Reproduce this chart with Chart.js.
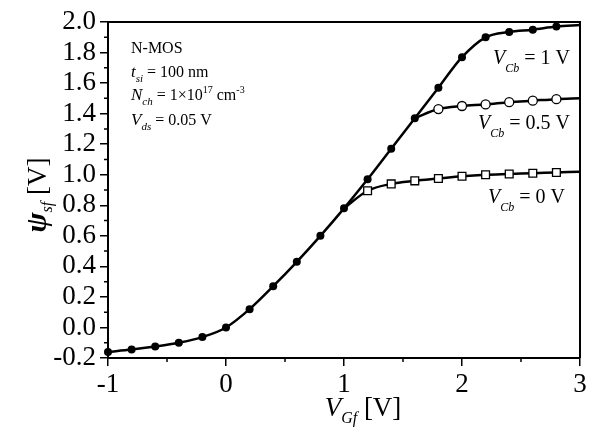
<!DOCTYPE html>
<html lang="en">
<head>
<meta charset="UTF-8">
<title>Surface potential vs front gate voltage</title>
<script src="https://cdn.jsdelivr.net/npm/chart.js"></script>
<style>
  html, body { margin: 0; padding: 0; background: #fff; }
</style>
</head>
<body>
<canvas id="psiChart" width="597" height="427"></canvas>

<script>
  // front gate voltage V_Gf [V]
  var vgf = [-1, -0.8, -0.6, -0.4, -0.2, 0, 0.2, 0.4, 0.6, 0.8, 1.0,
             1.2, 1.4, 1.6, 1.8, 2.0, 2.2, 2.4, 2.6, 2.8, 3.0];

  // surface potential psi_sf [V] for each back gate bias
  var psiCb1  = [-0.16, -0.145, -0.125, -0.10, -0.063, 0.0, 0.12, 0.27, 0.43, 0.60, 0.78,
                 0.97, 1.17, 1.37, 1.57, 1.77, 1.90, 1.935, 1.95, 1.97, 1.98];
  var psiCb05 = [null, null, null, null, null, null, null, null, null, null, null,
                 null, null, 1.37, 1.43, 1.45, 1.46, 1.475, 1.485, 1.495, 1.50];
  var psiCb0  = [null, null, null, null, null, null, null, null, null, null, 0.78,
                 0.895, 0.94, 0.96, 0.975, 0.99, 1.0, 1.005, 1.01, 1.015, 1.02];

  var xTicks = [-1, 0, 1, 2, 3];
  var yTickLabels = ['-0.2', '0.0', '0.2', '0.4', '0.6', '0.8', '1.0', '1.2', '1.4', '1.6', '1.8', '2.0'];

  var SERIF = '"Liberation Serif", "Times New Roman", serif';

  function toPoints(ys) {
    var pts = [];
    for (var i = 0; i < vgf.length; i++) {
      if (ys[i] !== null) pts.push({ x: vgf[i], y: ys[i] });
    }
    return pts;
  }

  // no marker on the branch point, none on the right edge
  function radii(ys, r) {
    var out = [];
    var first = true;
    for (var i = 0; i < vgf.length; i++) {
      if (ys[i] === null) continue;
      if ((first && i > 0) || i === vgf.length - 1) out.push(0);
      else out.push(r);
      first = false;
    }
    return out;
  }

  // draws a run of text pieces: [text, font, dy]
  function drawRich(ctx, x, y, parts, align) {
    var total = 0, widths = [];
    parts.forEach(function(p) {
      ctx.font = p[1];
      var w = ctx.measureText(p[0]).width;
      widths.push(w);
      total += w;
    });
    var cur = x;
    if (align === 'right') cur = x - total;
    if (align === 'center') cur = x - total / 2;
    parts.forEach(function(p, i) {
      ctx.font = p[1];
      ctx.fillText(p[0], cur, y + (p[2] || 0));
      cur += widths[i];
    });
  }

  var textPlugin = {
    id: 'textPlugin',
    afterDraw: function(chart) {
      var ctx = chart.ctx;
      var area = chart.chartArea;
      var xs = chart.scales.x, ys = chart.scales.y;
      ctx.save();

      // frame top and right
      ctx.strokeStyle = '#000';
      ctx.lineWidth = 2;
      ctx.beginPath();
      ctx.moveTo(area.left, area.top);
      ctx.lineTo(area.right, area.top);
      ctx.lineTo(area.right, area.bottom);
      ctx.stroke();

      // minor ticks
      ctx.lineWidth = 1.5;
      ctx.beginPath();
      for (var v = -0.1; v < 2.0; v += 0.2) {
        var py = ys.getPixelForValue(v);
        ctx.moveTo(area.left, py);
        ctx.lineTo(area.left - 4, py);
      }
      for (var u = -0.5; u < 3; u += 1) {
        var px = xs.getPixelForValue(u);
        ctx.moveTo(px, area.bottom);
        ctx.lineTo(px, area.bottom + 4);
      }
      ctx.stroke();

      ctx.fillStyle = '#000';
      ctx.textBaseline = 'alphabetic';

      var f = function(style, size) { return style + ' ' + size + 'px ' + SERIF; };

      // parameters box
      drawRich(ctx, 131, 53, [['N-MOS', f('', 16)]], 'left');
      drawRich(ctx, 131, 77, [['t', f('italic', 17)], ['si', f('italic', 11), 5], [' = 100 nm', f('', 16)]], 'left');
      drawRich(ctx, 131, 100, [['N', f('italic', 17)], ['ch', f('italic', 11), 5], [' = 1\u00d710', f('', 16)],
                               ['17', f('', 10), -7], [' cm', f('', 16)], ['-3', f('', 10), -7]], 'left');
      drawRich(ctx, 131, 125, [['V', f('italic', 17)], ['ds', f('italic', 11), 5], [' = 0.05 V', f('', 16)]], 'left');

      // curve labels
      drawRich(ctx, 570, 64, [['V', f('italic', 20)], ['Cb', f('italic', 12), 8], [' = 1 V', f('', 20)]], 'right');
      drawRich(ctx, 570, 129, [['V', f('italic', 20)], ['Cb', f('italic', 12), 8], [' = 0.5 V', f('', 20)]], 'right');
      drawRich(ctx, 565, 203, [['V', f('italic', 20)], ['Cb', f('italic', 12), 8], [' = 0 V', f('', 20)]], 'right');

      // x axis title
      drawRich(ctx, 363, 416, [['V', f('italic', 27)], ['Gf', f('italic', 16), 7], [' [V]', f('', 27)]], 'center');

      // y axis title
      ctx.translate(46, 195);
      ctx.rotate(-Math.PI / 2);
      drawRich(ctx, 0, 0, [['\u03c8', f('italic bold', 30)], ['sf', f('italic', 16), 6], [' [V]', f('', 27)]], 'center');

      ctx.restore();
    }
  };

  var ctx = document.getElementById('psiChart').getContext('2d');

  var chart = new Chart(ctx, {
    type: 'line',
    data: {
      datasets: [{
        label: 'V_Cb = 1 V',
        data: toPoints(psiCb1),
        borderColor: '#000',
        backgroundColor: '#000',
        borderWidth: 2.5,
        pointStyle: 'circle',
        pointRadius: radii(psiCb1, 4),
        pointBorderWidth: 0,
        clip: 5,
        cubicInterpolationMode: 'monotone'
      }, {
        label: 'V_Cb = 0.5 V',
        data: toPoints(psiCb05),
        borderColor: '#000',
        backgroundColor: '#fff',
        borderWidth: 2.5,
        pointStyle: 'circle',
        pointRadius: radii(psiCb05, 4.5),
        pointBorderWidth: 1.3,
        cubicInterpolationMode: 'monotone'
      }, {
        label: 'V_Cb = 0 V',
        data: toPoints(psiCb0),
        borderColor: '#000',
        backgroundColor: '#fff',
        borderWidth: 2.5,
        pointStyle: 'rect',
        pointRadius: radii(psiCb0, 5.5),
        pointBorderWidth: 1.3,
        cubicInterpolationMode: 'monotone'
      }]
    },
    options: {
      responsive: false,
      animation: false,
      layout: { padding: { left: 0, top: 22, right: 17, bottom: 0 } },
      plugins: {
        legend: { display: false },
        tooltip: { enabled: false }
      },
      scales: {
        x: {
          type: 'linear',
          min: -1,
          max: 3,
          afterBuildTicks: function(scale) {
            scale.ticks = xTicks.map(function(v) { return { value: v }; });
          },
          ticks: {
            color: '#000',
            font: { family: SERIF, size: 27 },
            padding: 3,
            maxRotation: 0,
            autoSkip: false,
            callback: function(value) { return String(value); }
          },
          grid: { display: true, drawOnChartArea: false, tickLength: 8, color: '#000', lineWidth: 1.5 },
          border: { display: true, color: '#000', width: 2 },
          afterFit: function(scale) { scale.height = 69; }
        },
        y: {
          type: 'linear',
          min: -0.2,
          max: 2.0,
          afterBuildTicks: function(scale) {
            scale.ticks = yTickLabels.map(function(t) { return { value: parseFloat(t) }; });
          },
          ticks: {
            color: '#000',
            font: { family: SERIF, size: 27 },
            padding: 4,
            autoSkip: false,
            callback: function(value, i) { return yTickLabels[i]; }
          },
          grid: { display: true, drawOnChartArea: false, tickLength: 8, color: '#000', lineWidth: 1.5 },
          border: { display: true, color: '#000', width: 2 },
          afterFit: function(scale) { scale.width = 108; }
        }
      }
    },
    plugins: [textPlugin]
  });
</script>
</body>
</html>
